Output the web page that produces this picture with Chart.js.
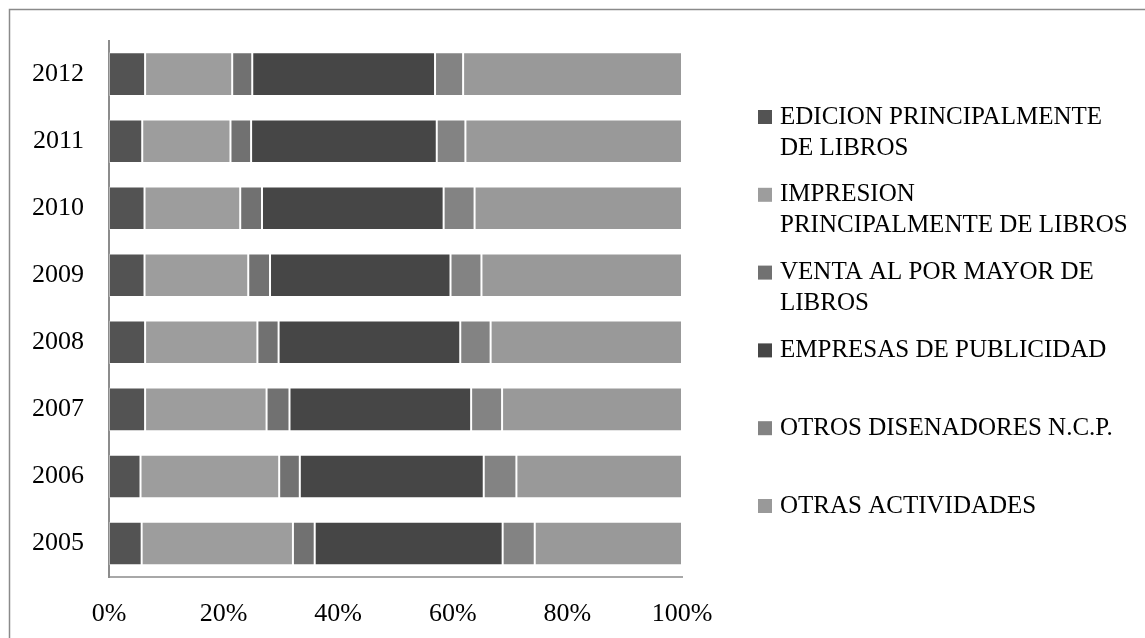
<!DOCTYPE html>
<html>
<head>
<meta charset="utf-8">
<script src="https://cdn.jsdelivr.net/npm/chart.js@4/dist/chart.umd.min.js"></script>
<style>
  html, body { margin: 0; padding: 0; background: #ffffff; }
  #wrap { position: relative; width: 1145px; height: 638px; }
</style>
</head>
<body>
<div id="wrap"><canvas id="c" width="1145" height="638"></canvas></div>
<script>
// Years shown on the vertical axis (bottom to top)
const years = ['2005', '2006', '2007', '2008', '2009', '2010', '2011', '2012'];

// Series names, split into the lines shown in the legend
const seriesNames = [
  ['EDICION PRINCIPALMENTE', 'DE LIBROS'],
  ['IMPRESION', 'PRINCIPALMENTE DE LIBROS'],
  ['VENTA AL POR MAYOR DE', 'LIBROS'],
  ['EMPRESAS DE PUBLICIDAD'],
  ['OTROS DISENADORES N.C.P.'],
  ['OTRAS ACTIVIDADES']
];

// Share of each activity per year (%), 2005 .. 2012
const edicion    = [5.7, 5.5, 6.3, 6.3, 6.2, 6.2, 5.8, 6.3];
const impresion  = [26.4, 24.2, 21.2, 19.6, 18.1, 16.7, 15.4, 15.2];
const venta      = [3.8, 3.6, 4.0, 3.7, 3.8, 3.8, 3.6, 3.5];
const publicidad = [32.8, 32.1, 31.7, 31.7, 31.5, 31.7, 32.4, 31.9];
const otrosDis   = [5.6, 5.7, 5.4, 5.3, 5.4, 5.4, 5.0, 4.9];
const otras      = [25.7, 28.9, 31.4, 33.4, 35.0, 36.2, 37.8, 38.2];

// Percentage ticks of the horizontal axis
const xTicks = [0, 20, 40, 60, 80, 100];

const seriesValues = [edicion, impresion, venta, publicidad, otrosDis, otras];
const seriesColors = ['#535353', '#9d9d9d', '#717171', '#464646', '#838383', '#999999'];

const FONT = '"Liberation Serif", "DejaVu Serif", serif';

// Frame along the top and left edges of the page
const framePlugin = {
  id: 'frame',
  beforeDraw(chart) {
    const ctx = chart.ctx;
    ctx.save();
    ctx.strokeStyle = '#8a8a8a';
    ctx.lineWidth = 1.5;
    ctx.beginPath();
    ctx.moveTo(9.5, chart.height);
    ctx.lineTo(9.5, 9.5);
    ctx.lineTo(chart.width, 9.5);
    ctx.stroke();
    ctx.restore();
  }
};

// Legend on the right with multi-line entries
const sideLegend = {
  id: 'sideLegend',
  afterDraw(chart, args, opts) {
    const ctx = chart.ctx;
    ctx.save();
    ctx.font = opts.fontSize + 'px ' + FONT;
    ctx.textBaseline = 'middle';
    ctx.textAlign = 'left';
    chart.data.datasets.forEach((ds, i) => {
      const y0 = opts.top + i * opts.step;
      ctx.fillStyle = ds.backgroundColor;
      ctx.fillRect(opts.boxX, y0 - opts.box / 2, opts.box, opts.box);
      ctx.fillStyle = '#000000';
      ds.label.forEach((line, j) => {
        ctx.fillText(line, opts.textX, y0 + j * opts.lineHeight);
      });
    });
    ctx.restore();
  }
};

new Chart(document.getElementById('c'), {
  type: 'bar',
  data: {
    labels: years,
    datasets: seriesValues.map((vals, i) => ({
      label: seriesNames[i],
      data: vals,
      backgroundColor: seriesColors[i],
      borderColor: 'rgba(255,255,255,0.35)',
      borderWidth: 1,
      borderSkipped: false,
      categoryPercentage: 1.0,
      barPercentage: 0.65
    }))
  },
  options: {
    indexAxis: 'y',
    responsive: false,
    animation: false,
    devicePixelRatio: 1,
    layout: { padding: { left: 0, top: 37, right: 463, bottom: 0 } },
    scales: {
      x: {
        stacked: true,
        min: 0,
        max: 100,
        afterBuildTicks(scale) { scale.ticks = xTicks.map(v => ({ value: v })); },
        afterFit(scale) { scale.height = 61; },
        grid: { display: false, drawTicks: false },
        border: { display: true, color: '#a8a8a8', width: 2 },
        ticks: {
          padding: 22,
          color: '#000000',
          font: { family: FONT, size: 26 },
          callback: v => v + '%'
        }
      },
      y: {
        stacked: true,
        reverse: true,
        afterFit(scale) { scale.width = 109; },
        grid: { display: false, drawTicks: false },
        border: { display: true, color: '#8c8c8c', width: 2 },
        ticks: {
          padding: 25,
          color: '#000000',
          font: { family: FONT, size: 26 }
        }
      }
    },
    plugins: {
      legend: { display: false },
      tooltip: { enabled: false },
      sideLegend: {
        top: 117, step: 77.8, lineHeight: 31,
        boxX: 758, box: 14, textX: 780, fontSize: 25
      }
    }
  },
  plugins: [framePlugin, sideLegend]
});
</script>
</body>
</html>
